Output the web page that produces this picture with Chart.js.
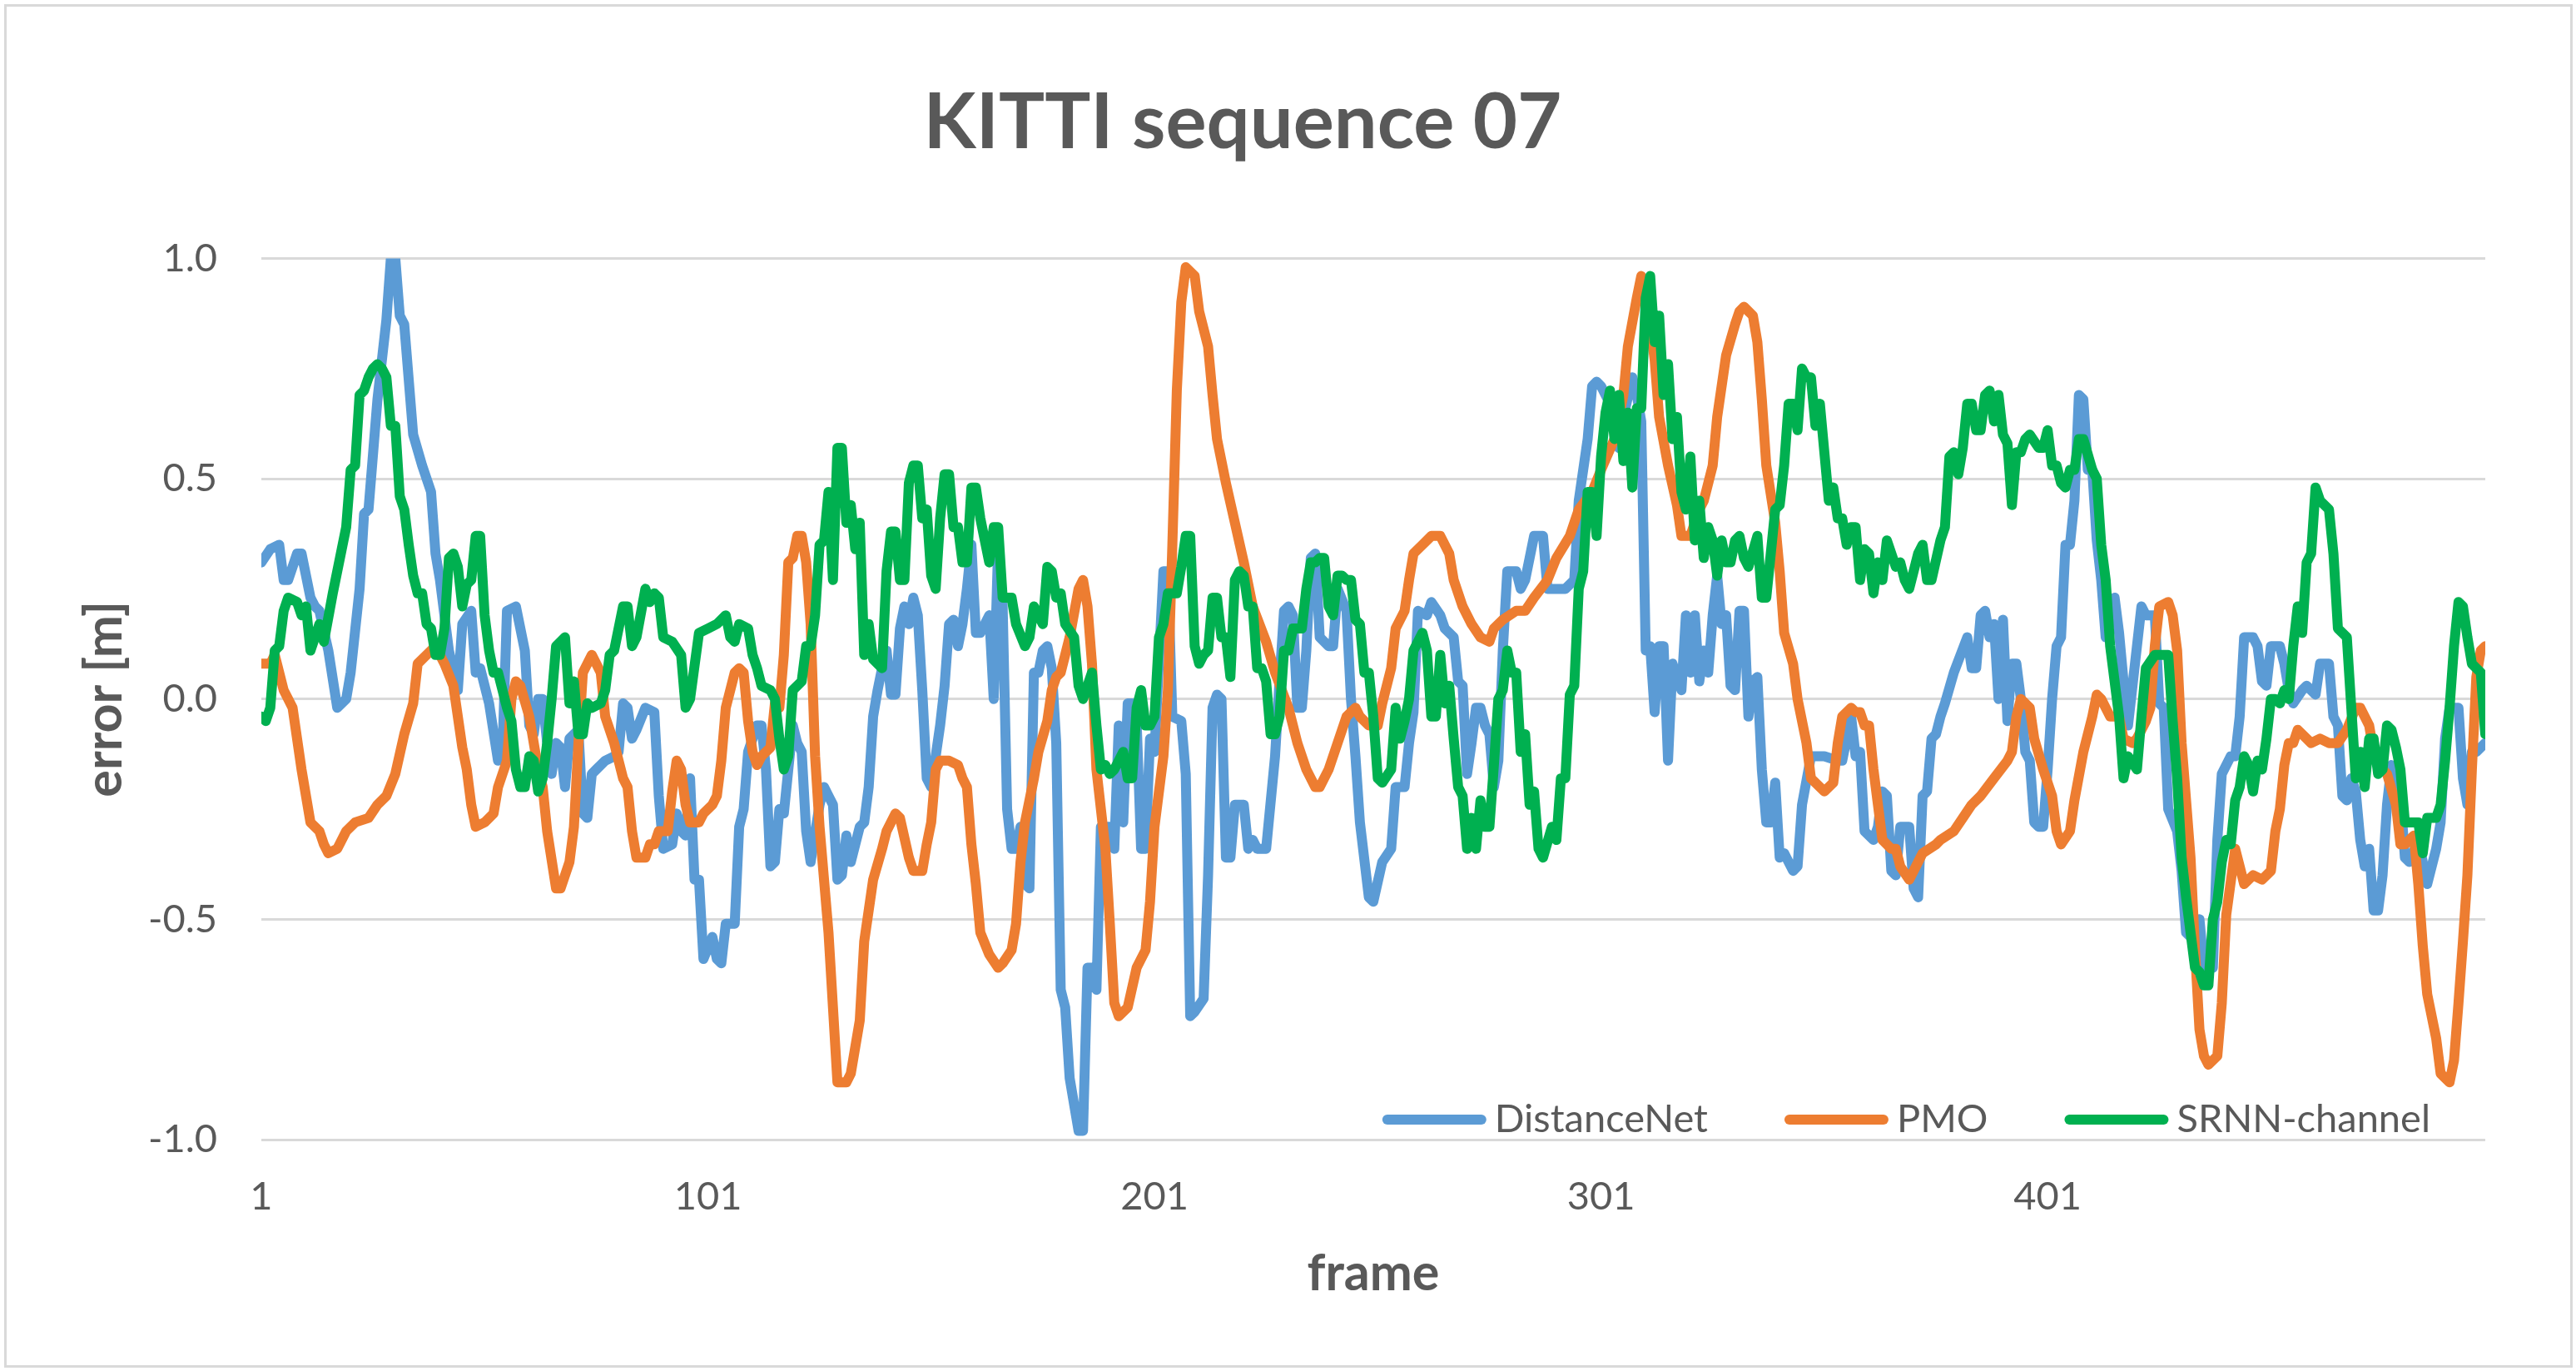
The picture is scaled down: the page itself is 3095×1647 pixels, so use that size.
<!DOCTYPE html>
<html>
<head>
<meta charset="utf-8">
<title>KITTI sequence 07</title>
<script src="https://cdn.jsdelivr.net/npm/chart.js@4.4.1/dist/chart.umd.min.js"></script>
<style>
  html, body { margin: 0; padding: 0; background: #fff; overflow: hidden; }
  #wrap { position: relative; width: 3095px; height: 1647px; }
  #chart { display: block; }
  #frameBorder {
    position: absolute; left: 5px; top: 5px; width: 3086px; height: 1638px;
    box-sizing: border-box; border: 3px solid #d9d9d9; pointer-events: none;
  }
</style>
</head>
<body>
<div id="wrap">
  <canvas id="chart" width="3095" height="1647"></canvas>
  <div id="frameBorder"></div>
</div>
<script>
// [frame, error in m]
const distanceNet = [
  [1,0.31],[3,0.34],[5,0.35],[6,0.27],[7,0.27],[9,0.33],[10,0.33],[12,0.23],[13,0.21],[14,0.20],
  [16,0.11],[18,-0.02],[20,0.00],[21,0.06],[23,0.25],[24,0.42],[25,0.43],[27,0.68],[29,0.86],[30,1.00],
  [31,1.00],[32,0.87],[33,0.85],[35,0.60],[37,0.53],[39,0.47],[40,0.33],[41,0.27],[43,0.11],[45,0.02],
  [46,0.17],[48,0.20],[49,0.06],[50,0.07],[52,-0.01],[54,-0.14],[55,-0.12],[56,0.20],[58,0.21],[60,0.11],
  [61,-0.06],[62,-0.08],[63,0.00],[64,0.00],[65,-0.10],[66,-0.17],[67,-0.10],[68,-0.11],[69,-0.20],[70,-0.09],
  [72,-0.07],[73,-0.26],[74,-0.27],[75,-0.17],[76,-0.16],[78,-0.14],[80,-0.13],[81,-0.12],[82,-0.01],[83,-0.02],
  [84,-0.09],[85,-0.07],[87,-0.02],[89,-0.03],[90,-0.22],[91,-0.34],[93,-0.33],[94,-0.26],[95,-0.30],[96,-0.31],
  [97,-0.18],[98,-0.41],[99,-0.41],[100,-0.59],[102,-0.54],[103,-0.59],[104,-0.60],[105,-0.51],[107,-0.51],[108,-0.29],
  [109,-0.25],[110,-0.12],[112,-0.06],[113,-0.06],[114,-0.16],[115,-0.38],[116,-0.37],[117,-0.25],[118,-0.26],[120,-0.06],
  [121,-0.10],[122,-0.12],[123,-0.30],[124,-0.37],[126,-0.24],[127,-0.20],[128,-0.22],[129,-0.24],[130,-0.41],[131,-0.40],
  [132,-0.31],[133,-0.37],[135,-0.29],[136,-0.28],[137,-0.20],[138,-0.04],[139,0.02],[140,0.07],[141,0.11],[142,0.01],
  [143,0.01],[144,0.16],[145,0.21],[146,0.17],[147,0.23],[148,0.19],[149,0.02],[150,-0.18],[151,-0.20],[153,-0.06],
  [154,0.03],[155,0.17],[156,0.18],[157,0.12],[158,0.17],[159,0.25],[160,0.35],[161,0.15],[162,0.15],[164,0.19],
  [165,0.00],[166,0.35],[167,0.21],[168,-0.25],[169,-0.34],[170,-0.34],[171,-0.29],[172,-0.42],[173,-0.43],[174,0.06],
  [175,0.06],[176,0.11],[177,0.12],[178,0.07],[179,-0.10],[180,-0.66],[181,-0.70],[182,-0.86],[184,-0.98],[185,-0.98],
  [186,-0.61],[187,-0.61],[188,-0.66],[189,-0.29],[191,-0.29],[192,-0.34],[193,-0.06],[194,-0.28],[195,-0.01],[196,-0.01],
  [197,-0.05],[198,-0.34],[199,-0.34],[200,-0.09],[201,-0.12],[203,0.29],[204,0.29],[205,-0.04],[207,-0.05],[208,-0.17],
  [209,-0.72],[210,-0.71],[212,-0.68],[213,-0.40],[214,-0.02],[215,0.01],[216,0.00],[217,-0.36],[218,-0.36],[219,-0.24],
  [221,-0.24],[222,-0.34],[223,-0.32],[224,-0.34],[226,-0.34],[228,-0.13],[229,0.04],[230,0.20],[231,0.21],[232,0.19],
  [233,-0.02],[234,-0.02],[235,0.11],[236,0.32],[237,0.33],[238,0.14],[240,0.12],[241,0.12],[242,0.25],[244,0.20],
  [245,0.00],[246,-0.13],[247,-0.28],[249,-0.45],[250,-0.46],[252,-0.37],[254,-0.34],[255,-0.20],[257,-0.20],[258,-0.10],
  [259,-0.03],[260,0.20],[262,0.19],[263,0.22],[265,0.19],[266,0.16],[268,0.14],[269,0.04],[270,0.03],[271,-0.17],
  [272,-0.10],[273,-0.02],[274,-0.02],[275,-0.06],[276,-0.08],[277,-0.20],[278,-0.14],[279,0.11],[280,0.29],[282,0.29],
  [283,0.25],[284,0.27],[285,0.32],[286,0.37],[288,0.37],[289,0.25],[291,0.25],[293,0.25],[295,0.27],[296,0.45],
  [298,0.59],[299,0.71],[300,0.72],[301,0.71],[303,0.67],[304,0.61],[305,0.57],[306,0.64],[308,0.73],[309,0.69],
  [310,0.63],[311,0.11],[312,0.12],[313,-0.03],[314,0.12],[315,0.12],[316,-0.14],[317,0.08],[319,0.02],[320,0.19],
  [321,0.06],[322,0.19],[323,0.04],[324,0.11],[325,0.06],[326,0.19],[327,0.28],[328,0.17],[329,0.19],[330,0.03],
  [331,0.02],[332,0.20],[333,0.20],[334,-0.04],[335,0.04],[336,0.05],[337,-0.16],[338,-0.28],[339,-0.28],[340,-0.19],
  [341,-0.36],[342,-0.35],[344,-0.39],[345,-0.38],[346,-0.24],[348,-0.13],[349,-0.13],[351,-0.13],[354,-0.14],[355,-0.14],
  [357,-0.04],[358,-0.13],[359,-0.12],[360,-0.30],[362,-0.32],[363,-0.29],[364,-0.21],[365,-0.22],[366,-0.39],[367,-0.40],
  [368,-0.29],[370,-0.29],[371,-0.43],[372,-0.45],[373,-0.22],[374,-0.21],[375,-0.09],[376,-0.08],[377,-0.04],[378,-0.01],
  [380,0.06],[383,0.14],[384,0.07],[385,0.07],[386,0.19],[387,0.20],[388,0.14],[389,0.17],[390,0.00],[391,0.18],
  [392,-0.05],[393,0.08],[394,0.08],[395,0.00],[396,-0.12],[397,-0.14],[398,-0.28],[399,-0.29],[400,-0.29],[401,-0.16],
  [402,0.00],[403,0.12],[404,0.14],[405,0.35],[406,0.35],[407,0.45],[408,0.69],[409,0.68],[410,0.52],[411,0.52],
  [412,0.36],[413,0.27],[414,0.14],[416,0.23],[417,0.15],[418,0.04],[419,-0.06],[420,0.03],[422,0.21],[423,0.19],
  [425,0.19],[426,-0.01],[427,-0.02],[428,-0.25],[430,-0.30],[431,-0.39],[432,-0.53],[434,-0.55],[435,-0.50],[436,-0.61],
  [438,-0.61],[439,-0.32],[440,-0.17],[442,-0.13],[443,-0.13],[444,-0.04],[445,0.14],[447,0.14],[448,0.12],[449,0.04],
  [450,0.03],[451,0.12],[453,0.12],[454,0.08],[455,0.02],[456,-0.01],[458,0.02],[459,0.03],[460,0.02],[461,0.01],
  [462,0.08],[464,0.08],[465,-0.04],[466,-0.06],[467,-0.22],[468,-0.23],[469,-0.18],[470,-0.21],[471,-0.32],[472,-0.38],
  [473,-0.34],[474,-0.48],[475,-0.48],[476,-0.40],[477,-0.24],[478,-0.15],[480,-0.22],[481,-0.36],[482,-0.37],[484,-0.32],
  [485,-0.37],[486,-0.42],[488,-0.34],[489,-0.28],[490,-0.09],[491,-0.02],[493,-0.02],[494,-0.18],[495,-0.24],[496,-0.12],
  [497,-0.12],[499,-0.10]
];

const pmo = [
  [1,0.08],[3,0.08],[4,0.10],[6,0.02],[8,-0.02],[10,-0.16],[12,-0.28],[14,-0.30],[15,-0.33],[16,-0.35],
  [18,-0.34],[20,-0.30],[22,-0.28],[25,-0.27],[27,-0.24],[29,-0.22],[31,-0.17],[33,-0.08],[35,-0.01],[36,0.08],
  [38,0.10],[40,0.12],[42,0.08],[44,0.03],[46,-0.11],[47,-0.16],[48,-0.24],[49,-0.29],[51,-0.28],[53,-0.26],
  [54,-0.20],[56,-0.14],[57,0.00],[58,0.04],[59,0.03],[61,-0.04],[63,-0.16],[64,-0.20],[65,-0.30],[67,-0.43],
  [68,-0.43],[70,-0.37],[71,-0.29],[72,-0.10],[73,0.06],[75,0.10],[77,0.06],[78,-0.04],[80,-0.10],[82,-0.18],
  [83,-0.20],[84,-0.30],[85,-0.36],[87,-0.36],[88,-0.33],[89,-0.33],[90,-0.30],[92,-0.30],[93,-0.21],[94,-0.14],
  [95,-0.16],[96,-0.24],[97,-0.28],[99,-0.28],[100,-0.26],[102,-0.24],[103,-0.22],[104,-0.14],[105,-0.02],[107,0.06],
  [108,0.07],[109,0.06],[110,-0.05],[111,-0.12],[112,-0.15],[113,-0.13],[115,-0.11],[116,-0.01],[117,-0.02],[118,0.10],
  [119,0.31],[120,0.32],[121,0.37],[122,0.37],[123,0.31],[124,0.17],[125,-0.13],[126,-0.29],[128,-0.53],[129,-0.70],
  [130,-0.87],[132,-0.87],[133,-0.85],[135,-0.73],[136,-0.55],[138,-0.41],[140,-0.34],[141,-0.30],[143,-0.26],[144,-0.27],
  [146,-0.36],[147,-0.39],[149,-0.39],[150,-0.33],[151,-0.28],[152,-0.16],[153,-0.14],[155,-0.14],[157,-0.15],[158,-0.18],
  [159,-0.20],[160,-0.33],[161,-0.42],[162,-0.53],[164,-0.58],[166,-0.61],[167,-0.60],[169,-0.57],[170,-0.51],[171,-0.37],
  [172,-0.28],[174,-0.18],[175,-0.12],[177,-0.05],[178,0.02],[179,0.05],[180,0.06],[181,0.10],[182,0.14],[184,0.25],
  [185,0.27],[186,0.21],[187,0.08],[188,-0.16],[190,-0.34],[191,-0.51],[192,-0.69],[193,-0.72],[194,-0.71],[195,-0.70],
  [197,-0.61],[199,-0.57],[200,-0.46],[201,-0.29],[203,-0.13],[204,0.02],[205,0.35],[206,0.70],[207,0.90],[208,0.98],
  [210,0.96],[211,0.88],[213,0.80],[214,0.69],[215,0.59],[217,0.49],[219,0.40],[221,0.31],[223,0.21],[226,0.13],
  [228,0.06],[231,-0.02],[233,-0.10],[235,-0.16],[237,-0.20],[238,-0.20],[240,-0.16],[242,-0.10],[244,-0.04],[246,-0.02],
  [247,-0.04],[249,-0.06],[251,-0.06],[252,-0.01],[254,0.07],[255,0.16],[257,0.20],[258,0.27],[259,0.33],[261,0.35],
  [263,0.37],[265,0.37],[267,0.33],[268,0.27],[270,0.21],[272,0.17],[274,0.14],[276,0.13],[277,0.16],[279,0.18],
  [282,0.20],[284,0.20],[286,0.23],[289,0.27],[291,0.32],[294,0.37],[296,0.43],[299,0.47],[301,0.52],[304,0.59],
  [306,0.69],[307,0.80],[309,0.91],[310,0.96],[311,0.93],[313,0.77],[314,0.64],[316,0.53],[318,0.44],[319,0.37],
  [321,0.37],[323,0.43],[324,0.45],[326,0.53],[327,0.64],[329,0.78],[331,0.85],[332,0.88],[333,0.89],[335,0.87],
  [336,0.81],[337,0.68],[338,0.53],[340,0.40],[341,0.29],[342,0.15],[344,0.08],[345,0.00],[347,-0.10],[348,-0.18],
  [350,-0.20],[351,-0.21],[353,-0.19],[354,-0.10],[355,-0.04],[357,-0.02],[358,-0.03],[359,-0.03],[360,-0.06],[361,-0.06],
  [362,-0.16],[363,-0.24],[364,-0.32],[366,-0.34],[367,-0.34],[368,-0.38],[370,-0.41],[372,-0.37],[373,-0.35],[376,-0.33],
  [377,-0.32],[380,-0.30],[382,-0.27],[384,-0.24],[386,-0.22],[389,-0.18],[392,-0.14],[393,-0.12],[394,-0.04],[395,0.00],
  [397,-0.02],[398,-0.09],[400,-0.16],[402,-0.22],[403,-0.30],[404,-0.33],[406,-0.30],[407,-0.23],[409,-0.12],[411,-0.04],
  [412,0.01],[413,0.00],[415,-0.04],[417,-0.04],[418,-0.09],[420,-0.10],[421,-0.09],[423,-0.05],[424,-0.02],[425,0.12],
  [426,0.21],[428,0.22],[429,0.19],[430,0.11],[431,-0.10],[433,-0.36],[434,-0.57],[435,-0.75],[436,-0.81],[437,-0.83],
  [439,-0.81],[440,-0.69],[441,-0.49],[443,-0.34],[444,-0.38],[445,-0.42],[447,-0.40],[449,-0.41],[451,-0.39],[452,-0.30],
  [453,-0.25],[454,-0.15],[455,-0.10],[456,-0.10],[457,-0.07],[458,-0.08],[460,-0.10],[462,-0.09],[464,-0.10],[466,-0.10],
  [468,-0.07],[470,-0.02],[471,-0.02],[473,-0.06],[474,-0.12],[476,-0.16],[477,-0.17],[479,-0.24],[480,-0.33],[481,-0.33],
  [483,-0.31],[484,-0.42],[485,-0.56],[486,-0.67],[488,-0.77],[489,-0.85],[491,-0.87],[492,-0.82],[493,-0.69],[494,-0.55],
  [495,-0.40],[496,-0.16],[497,0.05],[498,0.11],[499,0.12]
];

const srnnChannel = [
  [1,-0.04],[2,-0.05],[3,-0.02],[4,0.11],[5,0.12],[6,0.20],[7,0.23],[9,0.22],[10,0.19],[11,0.21],
  [12,0.11],[14,0.17],[15,0.13],[17,0.24],[19,0.34],[20,0.39],[21,0.52],[22,0.53],[23,0.69],[24,0.70],
  [25,0.73],[26,0.75],[27,0.76],[28,0.75],[29,0.73],[30,0.62],[31,0.62],[32,0.46],[33,0.43],[34,0.35],
  [35,0.28],[36,0.24],[37,0.24],[38,0.17],[39,0.16],[40,0.10],[41,0.10],[42,0.16],[43,0.32],[44,0.33],
  [45,0.30],[46,0.21],[47,0.26],[48,0.27],[49,0.37],[50,0.37],[51,0.19],[52,0.11],[53,0.06],[54,0.06],
  [55,0.02],[56,-0.02],[57,-0.05],[58,-0.16],[59,-0.20],[60,-0.20],[61,-0.13],[62,-0.14],[63,-0.21],[64,-0.18],
  [65,-0.10],[66,0.00],[67,0.12],[69,0.14],[70,-0.01],[71,0.04],[72,-0.08],[73,-0.08],[74,-0.01],[75,-0.02],
  [77,-0.01],[78,0.02],[79,0.10],[80,0.11],[82,0.21],[83,0.21],[84,0.12],[85,0.14],[87,0.25],[88,0.22],
  [89,0.24],[90,0.23],[91,0.14],[93,0.13],[95,0.10],[96,-0.02],[97,0.00],[99,0.15],[101,0.16],[103,0.17],
  [105,0.19],[106,0.14],[107,0.13],[108,0.17],[110,0.16],[111,0.10],[112,0.07],[113,0.03],[115,0.02],[116,0.00],
  [117,-0.09],[118,-0.16],[119,-0.13],[120,0.02],[122,0.04],[123,0.12],[124,0.12],[125,0.19],[126,0.35],[127,0.36],
  [128,0.47],[129,0.27],[130,0.57],[131,0.57],[132,0.40],[133,0.44],[134,0.34],[135,0.40],[136,0.10],[137,0.17],
  [138,0.09],[140,0.07],[141,0.29],[142,0.38],[143,0.38],[144,0.27],[145,0.27],[146,0.49],[147,0.53],[148,0.53],
  [149,0.41],[150,0.43],[151,0.28],[152,0.25],[153,0.41],[154,0.51],[155,0.51],[156,0.39],[157,0.39],[158,0.31],
  [159,0.31],[160,0.48],[161,0.48],[162,0.41],[164,0.31],[165,0.39],[166,0.39],[167,0.23],[169,0.23],[170,0.17],
  [172,0.12],[173,0.14],[174,0.21],[176,0.17],[177,0.30],[178,0.29],[179,0.23],[180,0.24],[181,0.17],[183,0.14],
  [184,0.03],[185,0.00],[187,0.06],[188,-0.06],[189,-0.16],[190,-0.15],[191,-0.17],[192,-0.16],[194,-0.12],[195,-0.18],
  [196,-0.18],[197,-0.02],[198,0.02],[199,-0.06],[200,-0.06],[201,-0.04],[202,0.14],[203,0.17],[204,0.24],[206,0.24],
  [207,0.30],[208,0.37],[209,0.37],[210,0.12],[211,0.08],[212,0.10],[213,0.11],[214,0.23],[215,0.23],[216,0.14],
  [217,0.14],[218,0.05],[219,0.27],[220,0.29],[221,0.28],[222,0.21],[223,0.21],[224,0.07],[225,0.07],[226,0.04],
  [227,-0.08],[228,-0.08],[229,-0.04],[230,0.11],[231,0.11],[232,0.16],[234,0.16],[235,0.25],[236,0.31],[237,0.31],
  [238,0.32],[239,0.32],[240,0.21],[241,0.19],[242,0.28],[243,0.28],[244,0.27],[245,0.27],[246,0.18],[247,0.17],
  [248,0.06],[249,0.06],[250,-0.04],[251,-0.18],[252,-0.19],[254,-0.16],[255,-0.02],[256,-0.09],[257,-0.05],[258,0.00],
  [259,0.11],[261,0.15],[262,0.11],[263,-0.04],[264,-0.04],[265,0.10],[266,-0.01],[267,0.03],[268,-0.09],[269,-0.20],
  [270,-0.22],[271,-0.34],[272,-0.27],[273,-0.34],[274,-0.23],[275,-0.29],[276,-0.29],[277,-0.15],[278,0.00],[279,0.02],
  [280,0.11],[281,0.06],[282,0.06],[283,-0.12],[284,-0.08],[285,-0.24],[286,-0.21],[287,-0.34],[288,-0.36],[290,-0.29],
  [291,-0.32],[292,-0.18],[293,-0.18],[294,0.01],[295,0.03],[296,0.25],[297,0.29],[298,0.47],[299,0.47],[300,0.37],
  [301,0.55],[302,0.65],[303,0.70],[304,0.59],[305,0.69],[306,0.54],[307,0.65],[308,0.48],[309,0.66],[310,0.66],
  [311,0.91],[312,0.96],[313,0.81],[314,0.87],[315,0.69],[316,0.76],[317,0.59],[318,0.64],[319,0.47],[320,0.43],
  [321,0.55],[322,0.36],[323,0.45],[324,0.32],[325,0.39],[326,0.36],[327,0.28],[328,0.36],[329,0.31],[330,0.31],
  [331,0.36],[332,0.37],[333,0.32],[334,0.30],[336,0.37],[337,0.23],[338,0.23],[339,0.33],[340,0.43],[341,0.44],
  [342,0.53],[343,0.67],[344,0.67],[345,0.61],[346,0.75],[347,0.73],[348,0.73],[349,0.62],[350,0.67],[352,0.45],
  [353,0.48],[354,0.41],[355,0.41],[356,0.35],[357,0.39],[358,0.39],[359,0.27],[360,0.34],[361,0.33],[362,0.24],
  [363,0.31],[364,0.27],[365,0.36],[367,0.30],[368,0.31],[369,0.27],[370,0.25],[372,0.33],[373,0.35],[374,0.27],
  [375,0.27],[377,0.36],[378,0.39],[379,0.55],[380,0.56],[381,0.51],[382,0.57],[383,0.67],[384,0.67],[385,0.61],
  [386,0.61],[387,0.69],[388,0.70],[389,0.63],[390,0.69],[391,0.60],[392,0.58],[393,0.44],[394,0.56],[395,0.56],
  [396,0.59],[397,0.60],[399,0.57],[400,0.57],[401,0.61],[402,0.53],[403,0.53],[404,0.49],[405,0.48],[406,0.52],
  [407,0.52],[408,0.59],[409,0.59],[411,0.52],[412,0.50],[413,0.35],[414,0.27],[415,0.12],[417,-0.04],[418,-0.18],
  [419,-0.13],[421,-0.16],[422,-0.04],[423,0.07],[425,0.10],[428,0.10],[429,-0.05],[430,-0.18],[431,-0.36],[432,-0.45],
  [434,-0.61],[435,-0.62],[436,-0.65],[437,-0.65],[438,-0.50],[439,-0.46],[440,-0.37],[441,-0.32],[442,-0.33],[443,-0.23],
  [444,-0.20],[445,-0.13],[446,-0.15],[447,-0.21],[448,-0.14],[449,-0.16],[450,-0.09],[451,0.00],[452,0.00],[453,-0.01],
  [454,0.02],[455,0.00],[456,0.12],[457,0.21],[458,0.15],[459,0.31],[460,0.33],[461,0.48],[462,0.45],[464,0.43],
  [465,0.33],[466,0.16],[467,0.15],[468,0.14],[469,-0.02],[470,-0.18],[471,-0.12],[472,-0.20],[473,-0.09],[474,-0.09],
  [475,-0.17],[476,-0.16],[477,-0.06],[478,-0.07],[479,-0.11],[480,-0.16],[481,-0.28],[483,-0.28],[484,-0.28],[485,-0.35],
  [486,-0.27],[488,-0.27],[489,-0.24],[490,-0.14],[491,-0.02],[492,0.12],[493,0.22],[494,0.21],[495,0.14],[496,0.08],
  [497,0.07],[498,0.06],[499,-0.08]
];

const seriesNames = ["DistanceNet", "PMO", "SRNN-channel"];
const seriesColors = ["#5B9BD5", "#ED7D31", "#00B050"];
const frameTicks = [1, 101, 201, 301, 401];
const firstFrame = 1;
const lastFrame = 499;
const errorMin = -1.0;
const errorMax = 1.0;
const errorStep = 0.5;

const textColor = "#595959";
Chart.defaults.font.family = "Lato, 'Open Sans', sans-serif";
Chart.defaults.color = textColor;

function toPoints(pairs) {
    return pairs.map(p => ({ x: p[0], y: p[1] }));
}

// Excel puts this legend inside the plot, bottom right
const insideLegend = {
    id: "insideLegend",
    afterDraw(chart) {
        const ctx = chart.ctx;
        const area = chart.chartArea;
        const lineLen = 125;
        const textGap = 10;
        const itemGap = 92;
        const y = area.bottom - 24;

        ctx.save();
        ctx.font = "47px Lato, 'Open Sans', sans-serif";
        const items = chart.data.datasets.map(ds => ({
            label: ds.label,
            color: ds.borderColor,
            width: ctx.measureText(ds.label).width
        }));

        let total = 0;
        items.forEach((it, i) => {
            total += lineLen + textGap + it.width;
            if (i < items.length - 1) total += itemGap;
        });

        let x = area.right - 66 - total;
        items.forEach(it => {
            ctx.strokeStyle = it.color;
            ctx.lineWidth = 12;
            ctx.lineCap = "round";
            ctx.beginPath();
            ctx.moveTo(x + 6, y);
            ctx.lineTo(x + lineLen - 6, y);
            ctx.stroke();

            ctx.fillStyle = textColor;
            ctx.textAlign = "left";
            ctx.textBaseline = "middle";
            ctx.fillText(it.label, x + lineLen + textGap, y);
            x += lineLen + textGap + it.width + itemGap;
        });
        ctx.restore();
    }
};

const allSeries = [distanceNet, pmo, srnnChannel];

new Chart(document.getElementById("chart"), {
    type: "line",
    data: {
        datasets: allSeries.map((s, i) => ({
            label: seriesNames[i],
            data: toPoints(s),
            borderColor: seriesColors[i],
            backgroundColor: seriesColors[i],
            borderWidth: 12,
            borderJoinStyle: "round",
            borderCapStyle: "round",
            pointRadius: 0,
            tension: 0,
            fill: false,
            // last series on top, like Excel
            order: allSeries.length - i
        }))
    },
    options: {
        responsive: false,
        devicePixelRatio: 1,
        animation: false,
        layout: {
            padding: { left: 0, right: 109, top: 0, bottom: 80 }
        },
        plugins: {
            legend: { display: false },
            tooltip: { enabled: false },
            title: {
                display: true,
                text: "KITTI sequence 07",
                color: textColor,
                font: { size: 92, weight: "bold" },
                padding: { top: 93, bottom: 107 }
            }
        },
        scales: {
            x: {
                type: "linear",
                min: firstFrame,
                max: lastFrame,
                afterBuildTicks: axis => {
                    axis.ticks = frameTicks.map(v => ({ value: v }));
                },
                afterFit: axis => { axis.height = 198; },
                grid: { display: false, drawTicks: false },
                border: { display: false },
                ticks: {
                    padding: 41,
                    font: { size: 47 },
                    color: textColor,
                    autoSkip: false,
                    maxRotation: 0,
                    callback: v => String(v)
                },
                title: {
                    display: true,
                    text: "frame",
                    color: textColor,
                    font: { size: 61, weight: "bold" },
                    padding: { top: 0, bottom: 0 }
                }
            },
            y: {
                min: errorMin,
                max: errorMax,
                afterFit: axis => { axis.width = 314; },
                grid: { color: "#d9d9d9", lineWidth: 3, drawTicks: false },
                border: { display: false },
                ticks: {
                    stepSize: errorStep,
                    padding: 53,
                    font: { size: 47 },
                    color: textColor,
                    callback: v => Number(v).toFixed(1)
                },
                title: {
                    display: true,
                    text: "error [m]",
                    color: textColor,
                    font: { size: 61, weight: "bold" },
                    padding: { top: 90, bottom: 0 }
                }
            }
        }
    },
    plugins: [insideLegend]
});
</script>
</body>
</html>
